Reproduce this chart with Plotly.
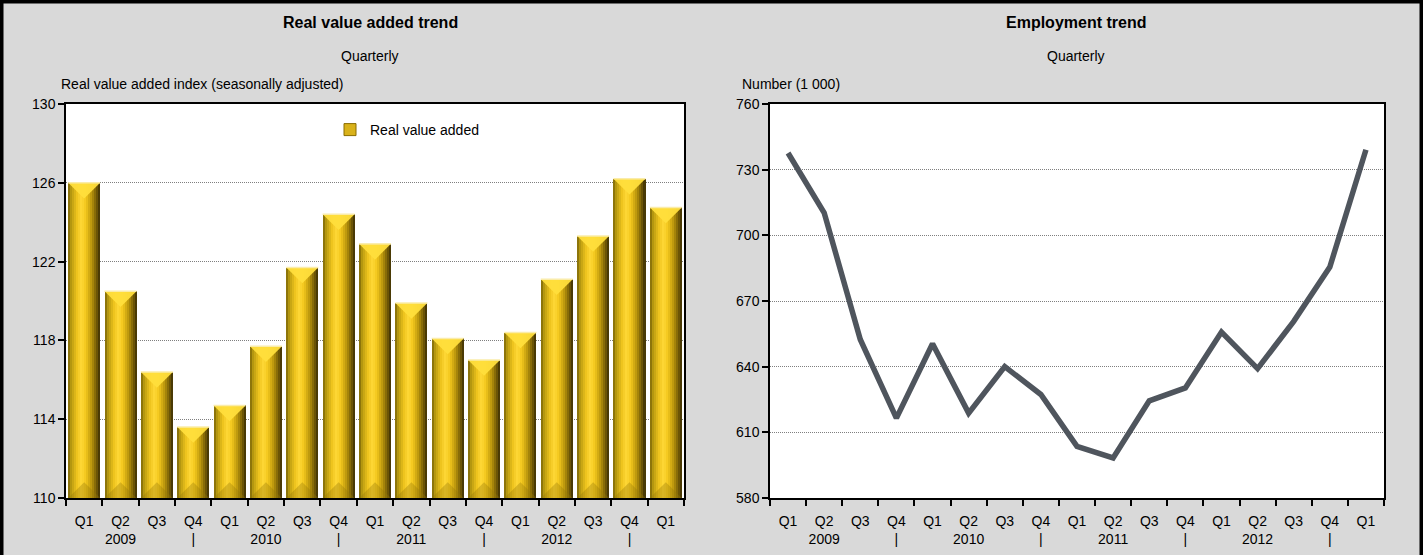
import plotly.graph_objects as go

# --- data -------------------------------------------------------------
quarters = ["Q1", "Q2", "Q3", "Q4", "Q1", "Q2", "Q3", "Q4", "Q1",
            "Q2", "Q3", "Q4", "Q1", "Q2", "Q3", "Q4", "Q1"]
year_row = ["", "2009", "", "|", "", "2010", "", "|", "",
            "2011", "", "|", "", "2012", "", "|", ""]
value_added = [126.0, 120.5, 116.4, 113.6, 114.7, 117.7, 121.7, 124.4, 122.9,
               119.9, 118.1, 117.0, 118.4, 121.1, 123.3, 126.2, 124.75]
employment = [737.6, 710.3, 652.4, 616.5, 650.5, 618.8, 640.0, 627.3, 603.6,
              598.3, 624.4, 630.3, 655.8, 639.1, 660.7, 685.5, 739.1]

W, H = 1423, 555
FONT = "Liberation Sans Narrow, Arial Narrow, Liberation Sans, Arial"
pos = list(range(len(quarters)))
ticktext = [f"{q}<br>{y}" if y else f"{q}<br> " for q, y in zip(quarters, year_row)]


def px_x(p):
    return p / W


def px_y(p):
    return 1 - p / H


fig = go.Figure()

# --- gold bars: vertical slices give a rounded, shaded look ------------
bar_w = 0.88
stops = [(0.00, (0x7a, 0x64, 0x08)), (0.10, (0xb8, 0x9a, 0x10)),
         (0.28, (0xee, 0xc4, 0x1e)), (0.42, (0xff, 0xd8, 0x36)),
         (0.56, (0xf2, 0xc6, 0x1c)), (0.74, (0xb8, 0x94, 0x0c)),
         (0.90, (0x6e, 0x56, 0x06)), (1.00, (0x3a, 0x2e, 0x04))]


def shade(t):
    for (t0, c0), (t1, c1) in zip(stops[:-1], stops[1:]):
        if t0 <= t <= t1:
            f = (t - t0) / (t1 - t0) if t1 > t0 else 0
            c = [round(a + (b - a) * f) for a, b in zip(c0, c1)]
            return "rgb({},{},{})".format(*c)
    return "rgb(58,46,4)"


n_slices = 16
sw = bar_w / n_slices
for i in range(n_slices):
    t = (i + 0.5) / n_slices
    fig.add_trace(go.Bar(
        x=pos, y=value_added, width=sw * 1.02, offset=-bar_w / 2 + i * sw,
        marker=dict(color=shade(t), line=dict(width=0)),
        showlegend=False, hoverinfo="skip", xaxis="x", yaxis="y"))

# bevelled cap at the top of each bar
cap_depth = 0.8
cx, cy = [], []
for p, v in zip(pos, value_added):
    cx += [p - bar_w / 2, p + bar_w / 2, p, p - bar_w / 2, None]
    cy += [v, v, v - cap_depth, v, None]
fig.add_trace(go.Scatter(
    x=cx, y=cy, mode="lines", fill="toself", fillcolor="rgba(255,222,60,0.95)",
    line=dict(width=0, color="rgba(0,0,0,0)"), showlegend=False,
    hoverinfo="skip", xaxis="x", yaxis="y"))
# thin light rim along the top edge
rx, ry = [], []
for p, v in zip(pos, value_added):
    rx += [p - bar_w / 2, p + bar_w / 2, None]
    ry += [v, v, None]
fig.add_trace(go.Scatter(
    x=rx, y=ry, mode="lines", line=dict(width=1.5, color="rgba(250,236,170,1)"),
    showlegend=False, hoverinfo="skip", xaxis="x", yaxis="y"))
# faint bevel at the foot of each bar
bx, by = [], []
for p in pos:
    bx += [p - bar_w / 2, p + bar_w / 2, p, p - bar_w / 2, None]
    by += [110, 110, 110 + cap_depth, 110, None]
fig.add_trace(go.Scatter(
    x=bx, y=by, mode="lines", fill="toself", fillcolor="rgba(150,120,10,0.35)",
    line=dict(width=0, color="rgba(0,0,0,0)"), showlegend=False,
    hoverinfo="skip", xaxis="x", yaxis="y"))

# legend entry for the bars
fig.add_trace(go.Bar(
    x=[None], y=[None], name="Real value added",
    marker=dict(color="#d9b21a", line=dict(width=1, color="#8a6d00")),
    xaxis="x", yaxis="y", showlegend=True))

# --- employment line ---------------------------------------------------
fig.add_trace(go.Scatter(
    x=pos, y=employment, mode="lines",
    line=dict(color="#4f555d", width=5.5),
    showlegend=False, xaxis="x2", yaxis="y2"))

# --- axes --------------------------------------------------------------
ydom = [px_y(498), px_y(104)]
common_x = dict(
    range=[-0.5, 16.5], tickmode="array", tickvals=pos, ticktext=ticktext,
    ticks="", showgrid=False, zeroline=False, showline=True,
    linecolor="black", linewidth=1.5, mirror=True, ticklabelstandoff=9,
    tickfont=dict(family=FONT, size=14, color="black"),
    minor=dict(tick0=0.5, dtick=1, ticks="outside", ticklen=6,
               tickcolor="black", tickwidth=1.5, showgrid=False),
)
common_y = dict(
    ticks="outside", ticklen=6, tickcolor="black", tickwidth=1.5,
    showline=True, linecolor="black", linewidth=1.5, mirror=True,
    showgrid=True, gridcolor="#7f7f7f", gridwidth=1, griddash="1px,1px",
    zeroline=False, tickfont=dict(family=FONT, size=14, color="black"),
)

fig.update_layout(
    width=W, height=H, margin=dict(l=0, r=0, t=0, b=0, autoexpand=False),
    paper_bgcolor="#d9d9d9", plot_bgcolor="white",
    barmode="overlay", bargap=0,
    font=dict(family=FONT, size=14, color="black"),
    xaxis=dict(domain=[px_x(66), px_x(684)], anchor="y", **common_x),
    yaxis=dict(domain=ydom, anchor="x", range=[110, 130],
               tickvals=[110, 114, 118, 122, 126, 130], **common_y),
    xaxis2=dict(domain=[px_x(770), px_x(1384)], anchor="y2", **common_x),
    yaxis2=dict(domain=ydom, anchor="x2", range=[580, 760],
                tickvals=[580, 610, 640, 670, 700, 730, 760], **common_y),
    legend=dict(x=px_x(330), y=px_y(130), xanchor="left", yanchor="middle",
                bgcolor="rgba(0,0,0,0)", font=dict(family=FONT, size=14),
                itemwidth=30),
    showlegend=True,
)

# --- titles and axis captions -----------------------------------------
notes = [
    ("Real value added trend", 370, 22, "center", 16, True),
    ("Quarterly", 370, 56, "center", 14, False),
    ("Real value added index (seasonally adjusted)", 59, 84, "left", 14, False),
    ("Employment trend", 1076, 22, "center", 16, True),
    ("Quarterly", 1076, 56, "center", 14, False),
    ("Number (1 000)", 740, 84, "left", 14, False),
]
for text, x, y, anchor, size, bold in notes:
    fig.add_annotation(
        text=f"<b>{text}</b>" if bold else text, xref="paper", yref="paper",
        x=px_x(x), y=px_y(y), xanchor=anchor, yanchor="middle",
        showarrow=False, font=dict(family=FONT, size=size, color="black"))

# outer frame
fig.add_shape(type="rect", xref="paper", yref="paper", x0=0, x1=1, y0=-0.05, y1=1,
              line=dict(color="black", width=7), fillcolor="rgba(0,0,0,0)",
              layer="above")

fig.write_html("out.html")
